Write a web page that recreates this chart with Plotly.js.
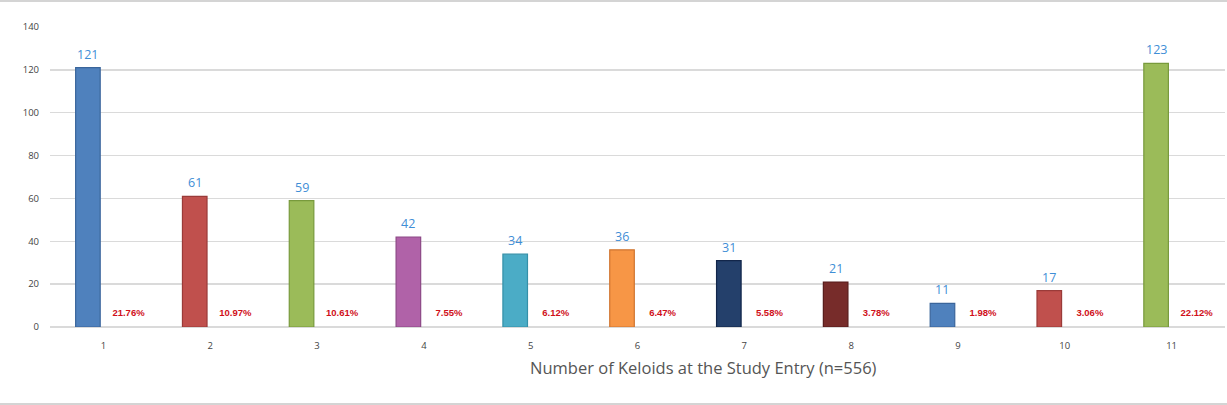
<!DOCTYPE html>
<html>
<head>
<meta charset="utf-8">
<script src="https://cdn.plot.ly/plotly-3.0.1.min.js"></script>
<style>
html,body{margin:0;padding:0;background:#fff;}
#frame{position:relative;width:1227px;height:405px;box-sizing:border-box;border-top:2px solid #d4d4d4;border-bottom:2px solid #d4d4d4;}
#chart{position:absolute;left:0;top:-2px;width:1227px;height:405px;}
</style>
</head>
<body>
<div id="frame"><div id="chart"></div></div>
<script>
const categories = [1, 2, 3, 4, 5, 6, 7, 8, 9, 10, 11];
const counts = [121, 61, 59, 42, 34, 36, 31, 21, 11, 17, 123];
const percentLabels = ["21.76%", "10.97%", "10.61%", "7.55%", "6.12%", "6.47%", "5.58%", "3.78%", "1.98%", "3.06%", "22.12%"];
const barColors = ["#4F81BD", "#C0504D", "#9BBB59", "#B062A8", "#4BACC6", "#F79646", "#24406B", "#772C2A", "#4F81BD", "#C0504D", "#9BBB59"];
const barEdges = ["#3A659B", "#9A3B39", "#789A3C", "#8C4886", "#3590A8", "#D07530", "#12264A", "#561B1A", "#3A659B", "#9A3B39", "#789A3C"];
const yTicks = [0, 20, 40, 60, 80, 100, 120, 140];

const barWidth = 0.23;
const barOffset = -0.26;
const pctY = 6.3;
const pctOffset = 0.235;

const bars = {
  type: 'bar',
  x: categories,
  y: counts,
  width: barWidth,
  offset: barOffset,
  marker: {color: barColors, line: {color: barEdges, width: 1.2}},
  hoverinfo: 'x+y'
};

const pct = {
  type: 'scatter',
  mode: 'text',
  x: categories.map(c => c + pctOffset),
  y: categories.map(() => pctY),
  text: percentLabels,
  textposition: 'middle center',
  textfont: {family: 'Liberation Sans, Arial, sans-serif', size: 9.5, color: '#D0101A', weight: 'bold'},
  hoverinfo: 'text'
};

const valueLabels = categories.map((c, i) => ({
  x: c + barOffset + barWidth / 2,
  y: counts[i],
  xref: 'x', yref: 'y',
  text: String(counts[i]),
  showarrow: false,
  xanchor: 'center', yanchor: 'bottom',
  yshift: 3,
  font: {family: 'Open Sans, Liberation Sans, sans-serif', size: 12.5, color: '#3F8ED6'}
}));

const layout = {
  width: 1227, height: 405,
  margin: {l: 50, r: 2, t: 27, b: 78},
  paper_bgcolor: 'rgba(0,0,0,0)',
  plot_bgcolor: '#fff',
  showlegend: false,
  font: {family: 'Open Sans, Liberation Sans, sans-serif', color: '#444'},
  xaxis: {
    range: [0.5, 11.5],
    tickmode: 'array',
    tickvals: categories,
    ticktext: categories.map(String),
    showgrid: false,
    zeroline: false,
    showline: false,
    ticks: '',
    tickfont: {size: 9.5, color: '#444'},
    ticklabelstandoff: 11
  },
  yaxis: {
    range: [0, 140],
    tickmode: 'array',
    tickvals: yTicks,
    showgrid: true,
    gridcolor: '#DADADA',
    gridwidth: 1.5,
    zeroline: true,
    zerolinecolor: '#DADADA',
    zerolinewidth: 1.5,
    showline: false,
    ticks: '',
    tickfont: {size: 9.5, color: '#444'},
    ticklabelstandoff: 10
  },
  annotations: valueLabels.concat([{
    text: 'Number of Keloids at the Study Entry (n=556)',
    xref: 'paper', yref: 'paper',
    x: 0.5565, y: -0.09,
    xanchor: 'center', yanchor: 'top',
    showarrow: false,
    font: {family: 'Open Sans, Liberation Sans, sans-serif', size: 16.5, color: '#555'}
  }])
};

Plotly.newPlot('chart', [bars, pct], layout, {displayModeBar: false, staticPlot: true});
</script>
</body>
</html>
